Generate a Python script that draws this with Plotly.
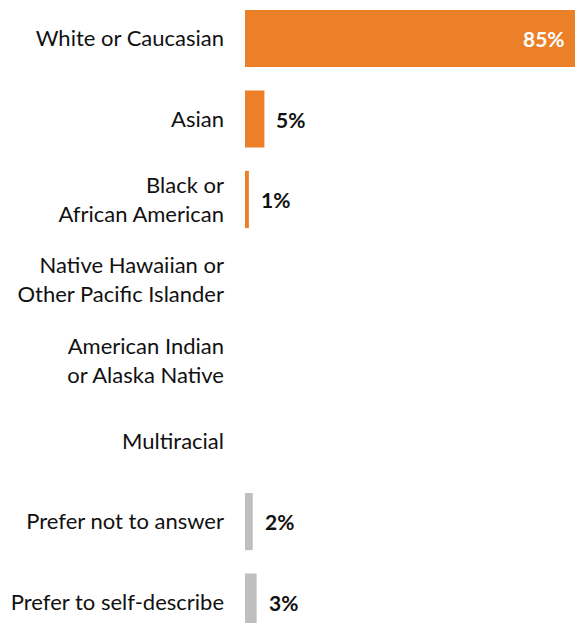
import plotly.graph_objects as go

# Respondent race / ethnicity, share of respondents (%)
categories = [
    "White or Caucasian",
    "Asian",
    "Black or<br>African American",
    "Native Hawaiian or<br>Other Pacific Islander",
    "American Indian<br>or Alaska Native",
    "Multiracial",
    "Prefer not to answer",
    "Prefer to self-describe",
]
values = [85, 5, 1, 0, 0, 0, 2, 3]
groups = ["race", "race", "race", "race", "race", "race", "other", "other"]

ORANGE = "#EB8028"
GREY = "#BFBFBF"
FONT = "Lato, 'Open Sans', sans-serif"

colors = [ORANGE if g == "race" else GREY for g in groups]
idx = list(range(len(categories)))

fig = go.Figure(
    go.Bar(
        y=idx,
        x=values,
        orientation="h",
        marker=dict(color=colors, line=dict(width=0)),
        width=0.71,
        hoverinfo="skip",
    )
)

# Value labels: inside (white) for the long bar, outside (black) otherwise
x_max = max(values)
for i, v in zip(idx, values):
    if v <= 0:
        continue
    label = f"{v}%"
    if v == x_max:
        fig.add_annotation(
            x=v, y=i, text=f"<b>{label}</b>", showarrow=False,
            xanchor="right", xshift=-8,
            font=dict(family=FONT, size=21, color="white"),
        )
    else:
        fig.add_annotation(
            x=v, y=i, text=f"<b>{label}</b>", showarrow=False,
            xanchor="left", xshift=10,
            font=dict(family=FONT, size=21, color="#111111"),
        )

fig.update_layout(
    width=575,
    height=623,
    margin=dict(l=245, r=0, t=0, b=0),
    paper_bgcolor="white",
    plot_bgcolor="white",
    showlegend=False,
    font=dict(family=FONT, size=22, color="#111111"),
    xaxis=dict(range=[0, x_max], visible=False, fixedrange=True),
    yaxis=dict(
        range=[7.26, -0.478],
        tickmode="array",
        tickvals=idx,
        ticktext=categories,
        showgrid=False,
        zeroline=False,
        showline=False,
        ticks="",
        ticklabelstandoff=20,
        tickfont=dict(family=FONT, size=22, color="#111111"),
    ),
)

fig.write_html("out.html")
